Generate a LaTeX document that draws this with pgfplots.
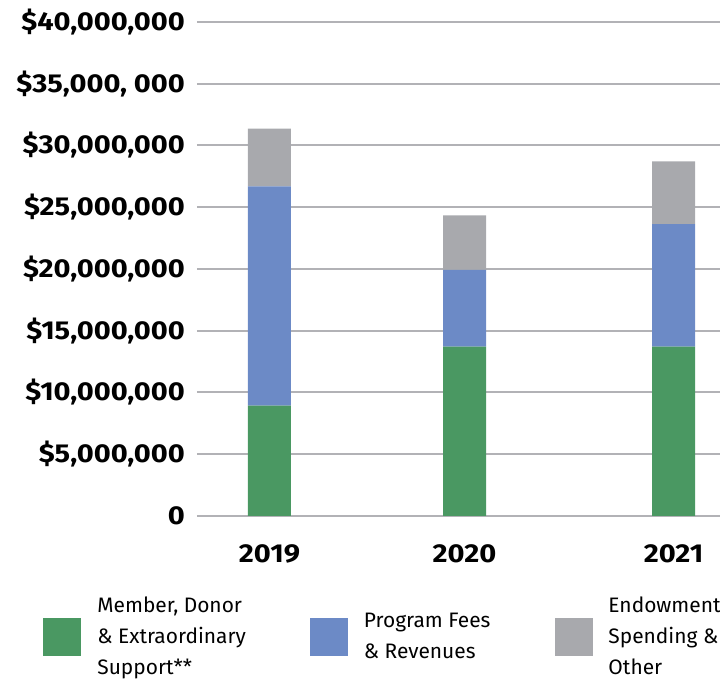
\documentclass[border=0pt]{standalone}
\usepackage{pgfplots}
\pgfplotsset{compat=1.18}
\usepackage{fontspec}
\setmainfont{Fira Sans}
\newfontfamily\tickfont{Fira Sans}[FakeStretch=1.12]
\definecolor{cgreen}{HTML}{4A9862}
\definecolor{cblue}{HTML}{6C8AC6}
\definecolor{cgrey}{HTML}{A8A9AD}
\definecolor{cgrid}{HTML}{B2B2B6}
\begin{document}
\begin{tikzpicture}
\begin{axis}[
  x=1bp, y=12.35bp,
  xmin=197, xmax=800, ymin=0, ymax=40,
  enlargelimits=false,
  ybar stacked, bar width=43bp,
  axis line style={draw=none},
  major tick length=0pt,
  ymajorgrids, grid style={cgrid, line width=2bp},
  ytick={0,5,10,15,20,25,30,35,40},
  yticklabels={{0},{\$5,000,000},{\$10,000,000},{\$15,000,000},{\$20,000,000},{\$25,000,000},{\$30,000,000},{\$35,000, 000},{\$40,000,000}},
  yticklabel style={font=\tickfont\bfseries\fontsize{26}{30}\selectfont, anchor=east, inner sep=0pt, xshift=-12bp},
  xtick={269.5,464.5,673.5}, xticklabels={2019,2020,2021},
  xticklabel style={font=\tickfont\bfseries\fontsize{26}{30}\selectfont, anchor=north, inner sep=0pt, yshift=-28bp},
  legend style={at={(axis description cs:-0.255,-0.16)}, anchor=north west, draw=none, inner sep=0pt,
    legend columns=3,
    cells={anchor=west, align=left, font=\fontsize{21}{31}\selectfont},
    /tikz/every odd column/.append style={column sep=14bp},
    /tikz/every even column/.append style={column sep=62bp}},
  legend image code/.code={\fill[#1] (0bp,-19bp) rectangle (38bp,19bp);},
]
\addplot[fill=cgreen, draw=none] coordinates {(269.5,8.93) (464.5,13.71) (673.5,13.71)};
\addlegendentry{Member, Donor\\\& Extraordinary\\Support**}
\addplot[fill=cblue, draw=none] coordinates {(269.5,17.76) (464.5,6.21) (673.5,9.92)};
\addlegendentry{Program Fees\\\& Revenues}
\addplot[fill=cgrey, draw=none] coordinates {(269.5,4.68) (464.5,4.43) (673.5,5.08)};
\addlegendentry{Endowment\\Spending \&\\Other}
\coordinate (bbA) at (axis cs:0,-13.36);
\coordinate (bbB) at (axis cs:720,41.78);
\end{axis}
\pgfresetboundingbox
\path (bbA) rectangle (bbB);
\end{tikzpicture}
\end{document}
